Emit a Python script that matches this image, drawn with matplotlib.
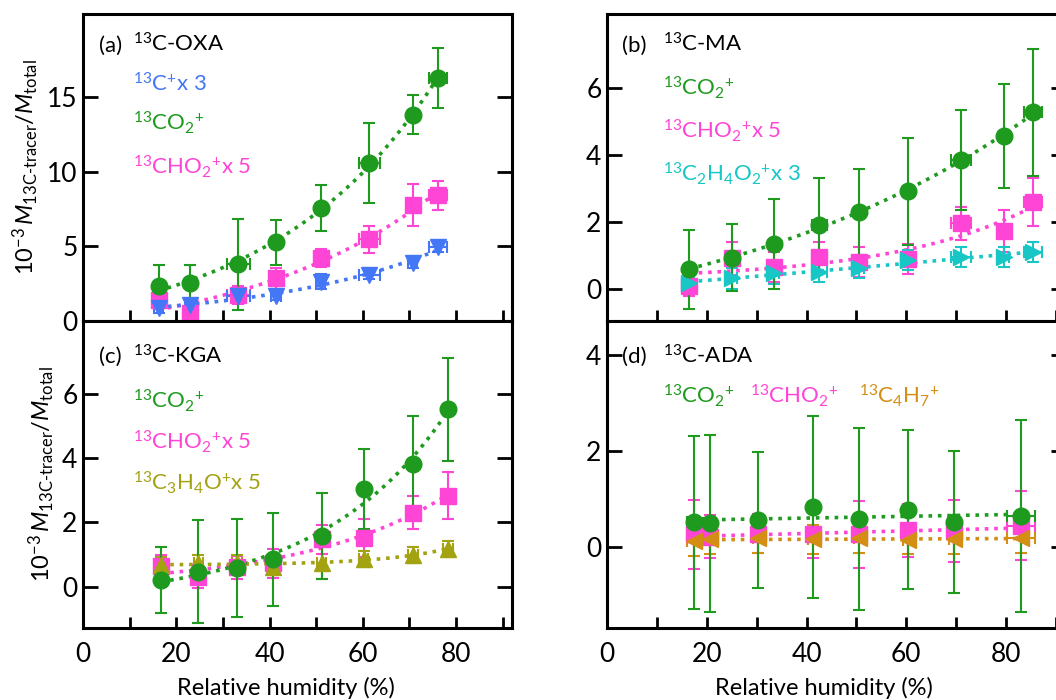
import numpy as np
import matplotlib
matplotlib.use('Agg')
import matplotlib.pyplot as plt
from matplotlib.ticker import MultipleLocator, FixedLocator

plt.rcParams['font.family'] = ['Lato', 'DejaVu Sans']
plt.rcParams['mathtext.fontset'] = 'custom'
plt.rcParams['mathtext.rm'] = 'Lato'
plt.rcParams['mathtext.it'] = 'Lato:italic'
plt.rcParams['mathtext.bf'] = 'Lato:bold'

# ---------------- data ----------------
# (a) 13C-OXA
a_x = [16.2, 22.9, 33.3, 41.4, 51.0, 61.4, 70.7, 76.1]
a_xerr = [1.0, 1.0, 2.5, 1.0, 1.0, 2.2, 1.0, 1.9]
a_co2 = [2.37, 2.53, 3.81, 5.27, 7.58, 10.6, 13.85, 16.3]
a_co2_err = [1.4, 1.2, 3.05, 1.5, 1.55, 2.7, 1.3, 2.0]
a_cho2 = [1.41, 0.52, 1.75, 2.87, 4.2, 5.49, 7.8, 8.43]
a_cho2_err = [0.5, 0.5, 0.6, 0.7, 0.6, 0.9, 1.4, 0.95]
a_c = [0.85, 1.08, 1.68, 1.68, 2.64, 3.09, 3.88, 4.95]
a_c_err = [0.3, 0.3, 0.3, 0.3, 0.5, 0.3, 0.3, 0.3]

# (b) 13C-MA
b_x = [16.5, 25.0, 33.5, 42.5, 50.6, 60.3, 70.9, 79.6, 85.4]
b_xerr = [1.0, 1.0, 1.0, 1.5, 1.0, 1.0, 2.0, 1.0, 1.75]
b_co2 = [0.57, 0.92, 1.33, 1.9, 2.28, 2.91, 3.84, 4.56, 5.26]
b_co2_err = [1.17, 1.0, 1.33, 1.4, 1.28, 1.6, 1.5, 1.56, 1.9]
b_cho2 = [0.08, 0.9, 0.65, 0.93, 0.78, 0.88, 1.95, 1.72, 2.58]
b_cho2_err = [0.3, 0.5, 0.45, 0.45, 0.45, 0.45, 0.5, 0.62, 0.71]
b_c2 = [0.17, 0.3, 0.45, 0.5, 0.6, 0.85, 0.93, 0.93, 1.1]
b_c2_err = [0.3, 0.3, 0.3, 0.3, 0.3, 0.3, 0.3, 0.3, 0.3]

# (c) 13C-KGA
c_x = [16.7, 24.7, 33.0, 40.7, 51.2, 60.2, 70.8, 78.3]
c_xerr = [1.0, 1.0, 1.0, 1.0, 1.0, 1.0, 1.0, 1.0]
c_co2 = [0.21, 0.47, 0.57, 0.85, 1.58, 3.04, 3.82, 5.53]
c_co2_err = [1.04, 1.6, 1.53, 1.45, 1.33, 1.24, 1.5, 1.6]
c_cho2 = [0.65, 0.31, 0.6, 0.73, 1.48, 1.51, 2.31, 2.84]
c_cho2_err = [0.35, 0.35, 0.35, 0.45, 0.45, 0.6, 0.52, 0.72]
c_c3 = [0.67, 0.75, 0.73, 0.62, 0.75, 0.85, 0.99, 1.18]
c_c3_err = [0.25, 0.25, 0.25, 0.25, 0.5, 0.25, 0.25, 0.25]

# (d) 13C-ADA
d_x = [17.4, 20.6, 30.3, 41.3, 50.5, 60.4, 69.6, 83.0]
d_xerr = [1.3, 1.3, 1.0, 1.0, 1.0, 1.0, 1.0, 2.8]
d_co2 = [0.51, 0.49, 0.56, 0.83, 0.58, 0.78, 0.51, 0.65]
d_co2_err = [1.81, 1.85, 1.42, 1.9, 1.9, 1.65, 1.48, 2.0]
d_cho2 = [0.26, 0.21, 0.28, 0.26, 0.26, 0.35, 0.33, 0.44]
d_cho2_err = [0.72, 0.45, 0.4, 0.5, 0.7, 0.55, 0.65, 0.72]
d_c4 = [0.12, 0.16, 0.18, 0.16, 0.18, 0.15, 0.16, 0.18]
d_c4_err = [0.3, 0.3, 0.3, 0.3, 0.3, 0.3, 0.3, 0.3]

a_yticks = [0, 5, 10, 15]
b_yticks = [0, 2, 4, 6]
c_yticks = [0, 2, 4, 6]
d_yticks = [0, 2, 4]

GREEN = '#1e9a1e'
PINK = '#ff45d6'
BLUE = '#4477f5'
CYAN = '#18c6c6'
OLIVE = '#a3a312'
ORANGE = '#d48e14'

W, H = 1056, 700
fig = plt.figure(figsize=(W / 100, H / 100), dpi=100)


def px_axes(l, t, r, b):
    return fig.add_axes([l / W, 1 - b / H, (r - l) / W, (b - t) / H])


ax_a = px_axes(83, 14, 512, 321)
ax_c = px_axes(83, 321, 512, 628)
ax_b = px_axes(607, 14, 1066, 321)
ax_d = px_axes(607, 321, 1066, 628)


def style(ax, ylim, yticks, bottom_labels):
    ax.set_xlim(0, 92)
    ax.set_ylim(*ylim)
    ax.xaxis.set_major_locator(MultipleLocator(20))
    ax.xaxis.set_minor_locator(MultipleLocator(10))
    ax.yaxis.set_major_locator(FixedLocator(yticks))
    ax.tick_params(axis='both', which='both', direction='in', width=2,
                   labelsize=19, top=False, right=True)
    ax.tick_params(axis='x', which='both', length=8)
    ax.tick_params(axis='y', which='major', length=11, pad=4)
    ax.tick_params(axis='x', which='major', pad=10)
    if not bottom_labels:
        ax.tick_params(axis='x', labelbottom=False)
    for s in ax.spines.values():
        s.set_linewidth(2.2)


def fit_curve(xa, ya, kind):
    xs = np.linspace(xa.min(), xa.max(), 120)
    if kind == 'lin':
        p = np.polyfit(xa, ya, 1)
        return xs, np.polyval(p, xs)
    best = None
    for k in np.linspace(0.002, 0.12, 300):
        A = np.column_stack([np.ones_like(xa), np.exp(k * xa)])
        coef, *_ = np.linalg.lstsq(A, ya, rcond=None)
        r = np.sum((A @ coef - ya) ** 2)
        if best is None or r < best[0]:
            best = (r, k, coef)
    _, k, coef = best
    return xs, coef[0] + coef[1] * np.exp(k * xs)


def series(ax, x, y, yerr, xerr, color, marker, ms, kind):
    ax.errorbar(x, y, yerr=yerr, xerr=xerr, fmt=marker, color=color, ms=ms,
                ecolor=color, elinewidth=1.5, capsize=4, capthick=1.5, zorder=3)
    xs, ys = fit_curve(np.array(x, float), np.array(y, float), kind)
    ax.plot(xs, ys, ls=(0, (1, 1.6)), color=color, lw=2.6, zorder=2)


# (a)
style(ax_a, (0, 20.6), a_yticks, False)
series(ax_a, a_x, a_cho2, a_cho2_err, a_xerr, PINK, 's', 11, 'exp')
series(ax_a, a_x, a_c, a_c_err, a_xerr, BLUE, 'v', 12, 'exp')
series(ax_a, a_x, a_co2, a_co2_err, a_xerr, GREEN, 'o', 12, 'exp')

# (b)
style(ax_b, (-0.97, 8.2), b_yticks, False)
series(ax_b, b_x, b_cho2, b_cho2_err, b_xerr, PINK, 's', 11, 'exp')
series(ax_b, b_x, b_c2, b_c2_err, b_xerr, CYAN, '>', 12, 'exp')
series(ax_b, b_x, b_co2, b_co2_err, b_xerr, GREEN, 'o', 12, 'exp')

# (c)
style(ax_c, (-1.29, 8.28), c_yticks, True)
series(ax_c, c_x, c_cho2, c_cho2_err, c_xerr, PINK, 's', 11, 'exp')
series(ax_c, c_x, c_c3, c_c3_err, c_xerr, OLIVE, '^', 12, 'exp')
series(ax_c, c_x, c_co2, c_co2_err, c_xerr, GREEN, 'o', 12, 'exp')

# (d)
style(ax_d, (-1.69, 4.71), d_yticks, True)
series(ax_d, d_x, d_cho2, d_cho2_err, d_xerr, PINK, 's', 11, 'lin')
series(ax_d, d_x, d_c4, d_c4_err, d_xerr, ORANGE, '<', 12, 'lin')
series(ax_d, d_x, d_co2, d_co2_err, d_xerr, GREEN, 'o', 12, 'lin')

# axis labels
ylab = r'$\mathrm{10}^{-3}\,\mathit{M}_{\mathrm{13C\text{-}tracer}}/\mathit{M}_{\mathrm{total}}$'
for ax in (ax_a, ax_c):
    ax.set_ylabel(ylab, fontsize=17, labelpad=4)
for ax in (ax_c, ax_d):
    ax.set_xlabel('Relative humidity (%)', fontsize=17, labelpad=4)
    ax.xaxis.set_label_coords(43.5 / 92, -0.16)


def ftext(x, y, s, color='black', size=16):
    fig.text(x / W, 1 - y / H, s, color=color, fontsize=size, va='baseline', ha='left')


# panel titles and series labels
ftext(99, 52, '(a)')
ftext(133, 52, r'$^{13}$C-OXA')
ftext(133, 91, r'$^{13}$C$^{+}$x 3', BLUE)
ftext(133, 130, r'$^{13}$CO$_{2}$$^{+}$', GREEN)
ftext(133, 174, r'$^{13}$CHO$_{2}$$^{+}$x 5', PINK)

ftext(622, 52, '(b)')
ftext(663, 52, r'$^{13}$C-MA')
ftext(663, 95, r'$^{13}$CO$_{2}$$^{+}$', GREEN)
ftext(663, 138, r'$^{13}$CHO$_{2}$$^{+}$x 5', PINK)
ftext(663, 181, r'$^{13}$C$_{2}$H$_{4}$O$_{2}$$^{+}$x 3', CYAN)

ftext(99, 363, '(c)')
ftext(133, 363, r'$^{13}$C-KGA')
ftext(133, 408, r'$^{13}$CO$_{2}$$^{+}$', GREEN)
ftext(133, 449, r'$^{13}$CHO$_{2}$$^{+}$x 5', PINK)
ftext(133, 490, r'$^{13}$C$_{3}$H$_{4}$O$^{+}$x 5', OLIVE)

ftext(622, 363, '(d)')
ftext(663, 363, r'$^{13}$C-ADA')
ftext(663, 403, r'$^{13}$CO$_{2}$$^{+}$', GREEN)
ftext(750, 403, r'$^{13}$CHO$_{2}$$^{+}$', PINK)
ftext(859, 403, r'$^{13}$C$_{4}$H$_{7}$$^{+}$', ORANGE)

fig.savefig('out.png', dpi=100)
